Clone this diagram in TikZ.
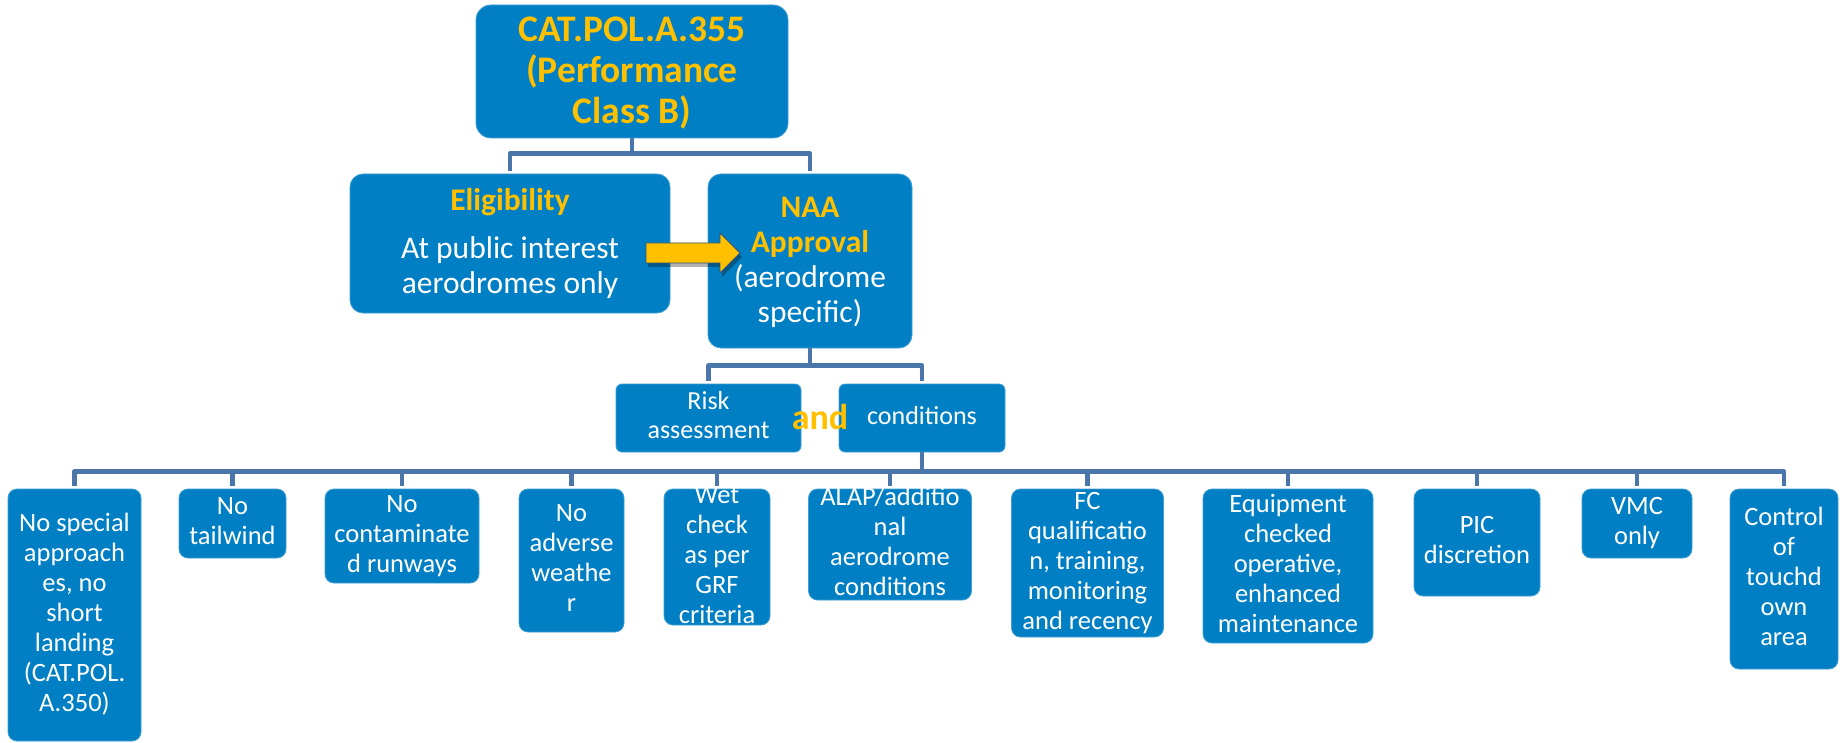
\documentclass[tikz,border=0pt]{standalone}
\usepackage{fontspec}
\setmainfont{Carlito}
\usepackage{tikz}
\definecolor{boxblue}{RGB}{0,127,196}
\definecolor{linkblue}{RGB}{74,118,170}
\definecolor{gold}{RGB}{255,192,0}
\newcommand{\stk}[1]{\smash{\raisebox{-0.25em}{\begin{tabular}{@{}c@{}}#1\end{tabular}}}}
\tikzset{
  chartbox/.style = {fill=boxblue,draw=boxblue!75!white,line width=0.8pt,inner sep=0pt,text=white},
  topbox/.style   = {chartbox,rounded corners=15pt,font=\fontsize{37.5}{41}\selectfont\bfseries,text=gold},
  midbox/.style   = {chartbox,rounded corners=13pt,font=\fontsize{31.5}{35}\selectfont},
  smallbox/.style = {chartbox,rounded corners=6pt,font=\fontsize{26}{29}\selectfont},
  leafbox/.style  = {chartbox,rounded corners=9pt,font=\fontsize{26.5}{30}\selectfont},
  linkline/.style = {linkblue,line width=4.5pt,line join=round,shorten >=3pt}
}

\begin{document}
\begin{tikzpicture}[x=1pt,y=-1pt]
  \useasboundingbox (0,0) rectangle (1846,743);
  % upper part
  \node[topbox,minimum width=312pt,minimum height=133pt] (rule) at (632,71.5)
    {\stk{CAT.POL.A.355\\(Performance\\Class B)}};
  \node[midbox,minimum width=320pt,minimum height=139pt] (elig) at (510,243.5)
    {\stk{{\bfseries\color{gold}Eligibility}\\[13pt]At public interest\\aerodromes only}};
  \node[midbox,minimum width=204pt,minimum height=174pt] (naa) at (810,261)
    {\stk{{\bfseries\color{gold}NAA}\\{\bfseries\color{gold}Approval}\\(aerodrome\\specific)}};
  \draw[linkline] (rule.south) -- ++(0,15) -| (elig.north);
  \draw[linkline] (rule.south) -- ++(0,15) -| (naa.north);
  % yellow arrow
  \fill[black,opacity=0.3,xshift=2pt,yshift=-4pt]
    (646,243) -- (720,243) -- (720,233) -- (740,253) -- (720,273) -- (720,263) -- (646,263) -- cycle;
  \filldraw[fill=gold,draw=linkblue!70!black,line width=0.8pt]
    (646,243) -- (720,243) -- (720,233) -- (740,253) -- (720,273) -- (720,263) -- (646,263) -- cycle;
  % risk and conditions
  \node[smallbox,minimum width=185pt,minimum height=68pt] (risk) at (708.5,418)
    {\stk{Risk\\assessment}};
  \node[smallbox,minimum width=166pt,minimum height=68pt] (cond) at (922,418)
    {\stk{conditions}};
  \node[font=\fontsize{36}{41}\selectfont\bfseries,text=gold,inner sep=0pt] (and) at (820,417) {and};
  \draw[linkline] (naa.south) -- ++(0,17) -| (risk.north);
  \draw[linkline] (naa.south) -- ++(0,17) -| (cond.north);
  % conditions row
  \node[leafbox,minimum width=133pt,minimum height=252pt] (special) at (74.5,615)
    {\stk{No special\\approach\\es, no\\short\\landing\\(CAT.POL.\\A.350)}};
  \node[leafbox,minimum width=107pt,minimum height=69pt] (tailwind) at (232.5,523.5)
    {\stk{No\\tailwind}};
  \node[leafbox,minimum width=154pt,minimum height=94pt] (contam) at (402,536)
    {\stk{No\\contaminate\\d runways}};
  \node[leafbox,minimum width=105pt,minimum height=143pt] (adverse) at (571.5,560.5)
    {\stk{No\\adverse\\weathe\\r}};
  \node[leafbox,minimum width=106pt,minimum height=136pt] (wetcheck) at (717,557)
    {\stk{Wet\\check\\as per\\GRF\\criteria}};
  \node[leafbox,minimum width=163pt,minimum height=111pt] (alap) at (890,544.5)
    {\stk{ALAP/additio\\nal\\aerodrome\\conditions}};
  \node[leafbox,minimum width=152pt,minimum height=148pt] (fcqual) at (1087.5,563)
    {\stk{FC\\qualificatio\\n, training,\\monitoring\\and recency}};
  \node[leafbox,minimum width=170pt,minimum height=154pt] (equip) at (1288,566)
    {\stk{Equipment\\checked\\operative,\\enhanced\\maintenance}};
  \node[leafbox,minimum width=126pt,minimum height=107pt] (pic) at (1477,542.5)
    {\stk{PIC\\discretion}};
  \node[leafbox,minimum width=110pt,minimum height=69pt] (vmc) at (1637,523.5)
    {\stk{VMC\\only}};
  \node[leafbox,minimum width=108pt,minimum height=180pt] (touchdown) at (1784,579)
    {\stk{Control\\of\\touchd\\own\\area}};
  \foreach \leaf in {special,tailwind,contam,adverse,wetcheck,alap,fcqual,equip,pic,vmc,touchdown}
    \draw[linkline] (cond.south) -- ++(0,19) -| (\leaf.north);
\end{tikzpicture}
\end{document}
